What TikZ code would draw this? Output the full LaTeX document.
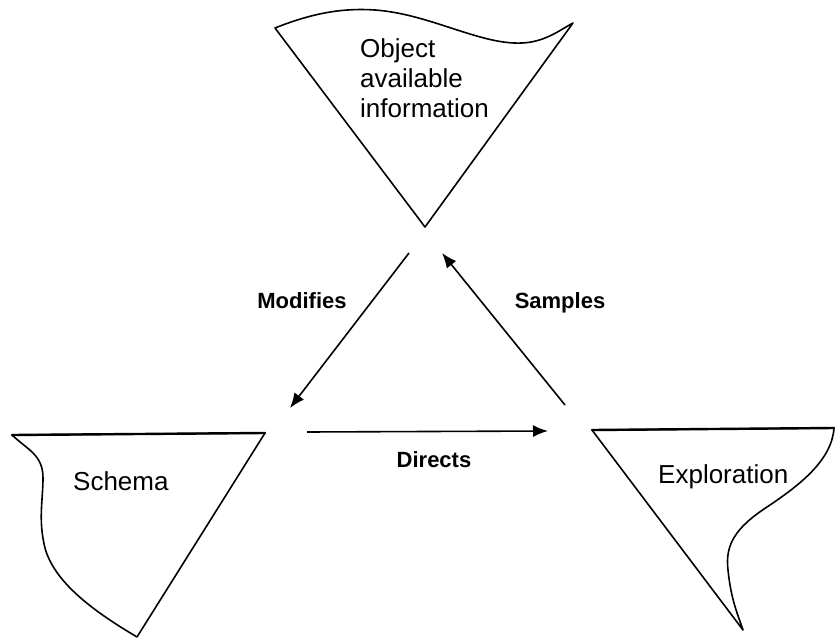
\documentclass[tikz,border=0pt]{standalone}
\usepackage{fontspec}
\setmainfont{Liberation Sans}
\usetikzlibrary{arrows.meta}
\begin{document}
\begin{tikzpicture}[x=1pt,y=-1pt,
  outline/.style={line width=1.6pt, line join=round},
  topedge/.style={line width=2.4pt, line cap=round},
  flow/.style={line width=1.6pt, -{Latex[length=15pt,width=12pt]}},
  boxtext/.style={inner sep=0pt, font=\fontsize{26}{30}\selectfont},
  relation/.style={inner sep=0pt, font=\fontsize{22}{26}\selectfont\bfseries}]
\useasboundingbox (0,0) rectangle (836,640);

% Object available information: funnel with a wavy top edge
\coordinate (objL) at (275,28);
\coordinate (objR) at (573,23);
\coordinate (objB) at (425,227);
\draw[outline] (objL) .. controls (315,12) and (345,8) .. (375,10)
  .. controls (430,14) and (480,45) .. (522,43)
  .. controls (545,42) and (560,30) .. (objR) -- (objB) -- cycle;
\node[boxtext, anchor=north west, align=left] (objtext) at (360,38)
  {Object\\available\\information};

% Schema: funnel with a curved left side
\coordinate (schL) at (12,435);
\coordinate (schR) at (265,433);
\coordinate (schB) at (137,637);
\draw[outline] (schL) -- (schR) -- (schB)
  .. controls (100,615) and (55,585) .. (45,548)
  .. controls (38,520) and (43,500) .. (43,478)
  .. controls (43,455) and (28,450) .. (schL) -- cycle;
\draw[topedge] (schL) -- (schR);
\node[boxtext, anchor=base west] (schtext) at (73,490) {Schema};

% Exploration: funnel with a curved right side
\coordinate (expL) at (592,430);
\coordinate (expR) at (834,428);
\coordinate (expB) at (743,630);
\draw[outline] (expL) -- (expR)
  .. controls (832,460) and (800,485) .. (767,507)
  .. controls (735,528) and (725,545) .. (728,570)
  .. controls (731,600) and (738,615) .. (expB) -- cycle;
\draw[topedge] (expL) -- (expR);
\node[boxtext, anchor=base west] (exptext) at (658,483) {Exploration};

% Relations between the three parts
\coordinate (modA) at (409,253);
\coordinate (modB) at (290,408);
\coordinate (samA) at (565,405);
\coordinate (samB) at (442,253);
\coordinate (dirA) at (307,432);
\coordinate (dirB) at (548,431);
\draw[flow] (modA) -- (modB);
\draw[flow] (samA) -- (samB);
\draw[flow] (dirA) -- (dirB);

\node[relation, anchor=base] (modlabel) at (302,308) {Modifies};
\node[relation, anchor=base] (samlabel) at (560,308) {Samples};
\node[relation, anchor=base] (dirlabel) at (434,467) {Directs};
\end{tikzpicture}
\end{document}
